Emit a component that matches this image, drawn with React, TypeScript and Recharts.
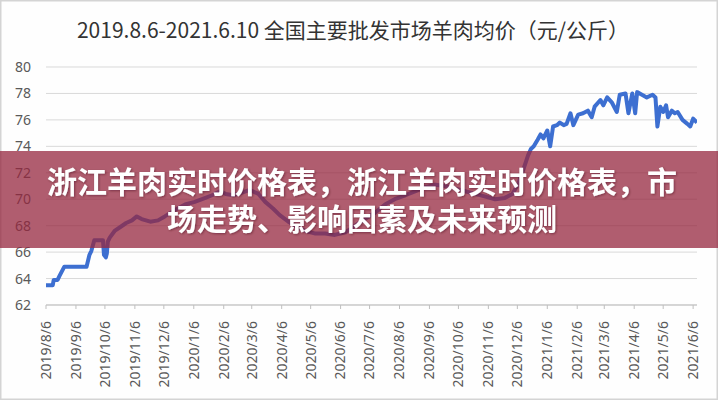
import React from 'react';
import { LineChart, Line, XAxis, YAxis, CartesianGrid } from 'recharts';

const titleText = '2019.8.6-2021.6.10 全国主要批发市场羊肉均价（元/公斤）';
const bannerLine1 = '浙江羊肉实时价格表，浙江羊肉实时价格表，市';
const bannerLine2 = '场走势、影响因素及未来预测';

const dates = [
  '2019/8/6', '2019/8/13', '2019/8/14', '2019/8/18', '2019/8/20', '2019/8/25', '2019/9/17', '2019/9/20',
  '2019/9/22', '2019/9/25', '2019/10/4', '2019/10/5', '2019/10/7', '2019/10/8', '2019/10/9', '2019/10/11',
  '2019/10/16', '2019/10/22', '2019/10/28', '2019/11/3', '2019/11/8', '2019/11/13', '2019/11/22', '2019/11/30',
  '2019/12/7', '2019/12/18', '2019/12/28', '2020/1/7', '2020/1/18', '2020/1/25', '2020/2/2', '2020/2/8',
  '2020/2/16', '2020/2/25', '2020/3/4', '2020/3/13', '2020/3/20', '2020/3/28', '2020/4/4', '2020/4/13',
  '2020/4/22', '2020/5/1', '2020/5/11', '2020/5/21', '2020/5/31', '2020/6/11', '2020/6/21', '2020/7/1',
  '2020/7/12', '2020/7/22', '2020/8/1', '2020/8/12', '2020/8/22', '2020/9/1', '2020/9/12', '2020/9/22',
  '2020/10/3', '2020/10/13', '2020/10/23', '2020/11/3', '2020/11/13', '2020/11/23', '2020/12/1', '2020/12/7',
  '2020/12/12', '2020/12/17', '2020/12/20', '2020/12/23', '2020/12/27', '2020/12/30', '2021/1/2', '2021/1/6',
  '2021/1/9', '2021/1/12', '2021/1/16', '2021/1/19', '2021/1/23', '2021/1/26', '2021/1/30', '2021/2/2',
  '2021/2/7', '2021/2/12', '2021/2/17', '2021/2/21', '2021/2/24', '2021/3/2', '2021/3/5', '2021/3/9',
  '2021/3/14', '2021/3/19', '2021/3/22', '2021/3/28', '2021/3/31', '2021/4/4', '2021/4/7', '2021/4/9',
  '2021/4/14', '2021/4/19', '2021/4/25', '2021/4/28', '2021/4/30', '2021/5/3', '2021/5/6', '2021/5/9',
  '2021/5/11', '2021/5/15', '2021/5/18', '2021/5/21', '2021/5/26', '2021/5/31', '2021/6/3', '2021/6/6',
  '2021/6/10',
];

const prices = [
  63.5, 63.5, 63.9, 63.9, 64.2, 64.9, 64.9, 65.8,
  66.1, 66.9, 66.9, 65.8, 65.6, 65.9, 66.8, 67.1,
  67.6, 67.9, 68.2, 68.4, 68.7, 68.5, 68.3, 68.4,
  68.7, 69.2, 69.6, 69.8, 70.1, 70.3, 70.6, 70.4,
  70.3, 70.5, 70.7, 70.4, 69.8, 69.3, 68.8, 68.3,
  67.9, 67.6, 67.4, 67.4, 67.3, 67.5, 68.0, 68.5,
  69.0, 69.6, 70.0, 70.3, 70.6, 70.9, 71.1, 71.0,
  70.8, 70.6, 70.4, 70.2, 70.0, 70.1, 70.4, 71.2,
  72.2, 73.3, 73.8, 74.0, 74.5, 74.9, 74.6, 75.2,
  74.0, 75.5, 75.6, 75.8, 75.6, 75.7, 76.5, 75.6,
  76.4, 76.5, 76.7, 76.2, 77.0, 77.5, 77.1, 77.7,
  77.3, 76.6, 77.9, 78.0, 76.5, 78.0, 76.5, 78.1,
  77.9, 77.7, 77.9, 77.7, 75.5, 77.0, 76.6, 77.1,
  76.2, 76.7, 76.5, 76.6, 76.0, 75.7, 75.5, 76.1,
  75.8,
];

const tickLabels = [
  '2019/8/6', '2019/9/6', '2019/10/6', '2019/11/6', '2019/12/6', '2020/1/6', '2020/2/6', '2020/3/6',
  '2020/4/6', '2020/5/6', '2020/6/6', '2020/7/6', '2020/8/6', '2020/9/6', '2020/10/6', '2020/11/6',
  '2020/12/6', '2021/1/6', '2021/2/6', '2021/3/6', '2021/4/6', '2021/5/6', '2021/6/6',
];

const yTicks = [62, 64, 66, 68, 70, 72, 74, 76, 78, 80];

const toDay = (s: string) => {
  const [y, m, d] = s.split('/').map(Number);
  return Math.round(Date.UTC(y, m - 1, d) / 86400000);
};

const data = dates.map((d, i) => ({ t: toDay(d), v: prices[i] }));
const tickDays = tickLabels.map(toDay);
const labelByDay: Record<number, string> = {};
tickDays.forEach((d, i) => { labelByDay[d] = tickLabels[i]; });

const XTick = (props: any) => {
  const { x, y, payload } = props;
  return (
    <g transform={`translate(${x},${y})`}>
      <text
        transform="rotate(-90)"
        x={-10}
        y={0}
        dy="0.35em"
        textAnchor="end"
        fill="#595959"
        fontSize={14}
        fontFamily="'Noto Sans', sans-serif"
      >
        {labelByDay[payload.value]}
      </text>
    </g>
  );
};

export default function App() {
  return (
    <div style={{ position: 'absolute', left: 0, top: 0, width: 718, height: 400, background: '#fefefe', overflow: 'hidden' }}>
      <svg width={718} height={400} style={{ position: 'absolute', left: 0, top: 0 }}>
        <rect x={0.75} y={0.75} width={716.5} height={398.5} fill="#fefefe" stroke="#d4d4d4" strokeWidth={1.5} />
        <text
          x={353}
          y={38}
          textAnchor="middle"
          fontSize={21}
          fill="#333333"
          fontFamily="'Noto Sans CJK SC', sans-serif"
        >
          {titleText}
        </text>
      </svg>
      <div style={{ position: 'absolute', left: 0, top: 0 }}>
        <LineChart width={718} height={400} data={data} margin={{ top: 67, right: 21, bottom: 5, left: 0 }}>
          <CartesianGrid horizontal vertical={false} stroke="#d9d9d9" strokeWidth={1} />
          <XAxis
            dataKey="t"
            type="number"
            domain={[toDay('2019/8/6'), toDay('2021/6/10')]}
            ticks={tickDays}
            interval={0}
            height={90}
            tick={<XTick />}
            tickLine={{ stroke: '#bfbfbf' }}
            tickSize={4}
            axisLine={{ stroke: '#bfbfbf' }}
            allowDataOverflow
          />
          <YAxis
            type="number"
            domain={[62, 80]}
            ticks={yTicks}
            interval={0}
            width={46}
            axisLine={false}
            tickLine={false}
            tickMargin={9}
            tick={{ fill: '#595959', fontSize: 14, fontFamily: "'Noto Sans', sans-serif" }}
          />
          <Line
            type="linear"
            dataKey="v"
            stroke="#3d6fd1"
            strokeWidth={4}
            dot={false}
            isAnimationActive={false}
            strokeLinejoin="round"
          />
        </LineChart>
      </div>
      <svg width={718} height={400} style={{ position: 'absolute', left: 0, top: 0, pointerEvents: 'none' }}>
        <defs>
          <filter id="txtShadow" x="-5%" y="-30%" width="110%" height="160%">
            <feDropShadow dx="1" dy="1" stdDeviation="0.8" floodColor="#3c0a14" floodOpacity="0.45" />
          </filter>
        </defs>
        <rect x={0} y={151} width={718} height={97} fill="rgba(150,39,63,0.75)" />
        <text
          fontFamily="'Noto Sans CJK SC', sans-serif"
          fontWeight={700}
          fontSize={30}
          textAnchor="middle"
          fill="#ffffff"
          filter="url(#txtShadow)"
        >
          <tspan x={362} y={193}>{bannerLine1}</tspan>
          <tspan x={362} y={230}>{bannerLine2}</tspan>
        </text>
      </svg>
    </div>
  );
}
